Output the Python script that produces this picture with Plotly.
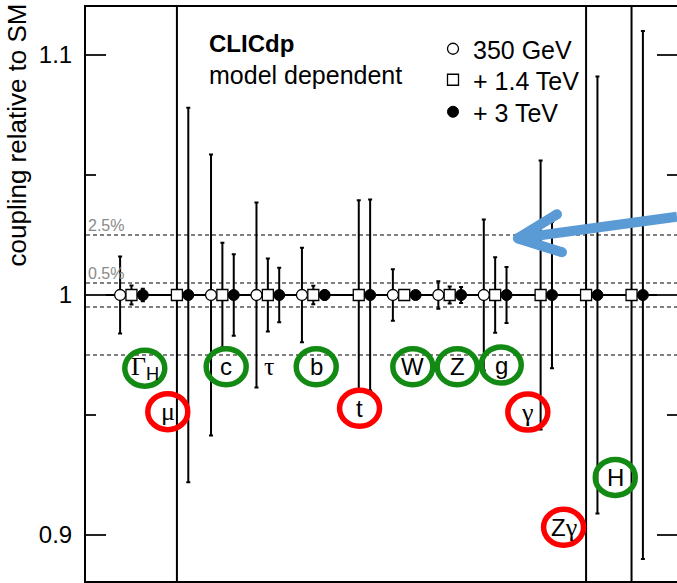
import plotly.graph_objects as go

# ---- data -------------------------------------------------------------
couplings = ["ΓH", "μ", "c", "τ", "b", "t", "W", "Z", "g", "γ", "Zγ", "H"]
# relative precision in percent (None = not measured at that stage)
err_350 = [1.6, None, 5.85, 3.85, 1.97, None, 1.07, 0.57, 3.15, None, None, None]
err_1400 = [0.40, 14.0, 2.18, 1.52, 0.39, 3.95, 0.18, 0.35, 1.57, 5.6, 15.0, 16.0]
err_3000 = [0.26, 7.8, 1.70, 1.14, 0.20, 3.98, 0.10, 0.33, 1.17, 3.05, 9.1, 11.0]
central = 1.0
stage_names = ["350 GeV", "+ 1.4 TeV", "+ 3 TeV"]
ref_lines = [1.025, 1.005, 0.995, 0.975]
ref_labels = {"2.5%": 1.025, "0.5%": 1.005}

# ---- layout constants ---------------------------------------------------
W, H = 677, 583
ML, MR, MT, MB = 86, 0, 7, 2
OFF = 0.25
SANS = "Liberation Sans, Arial, sans-serif"
SERIF = "Liberation Serif, Times New Roman, serif"
PW = W - ML - MR
PH = H - MT - MB


def px(xp):
    return (xp - ML) / PW


def py(yp):
    return (H - MB - yp) / PH


fig = go.Figure()

legend_ids = ["legend", "legend2", "legend3"]
stages = [
    (stage_names[0], err_350, -OFF, dict(symbol="circle", size=11, color="white", line=dict(color="black", width=1.3))),
    (stage_names[1], err_1400, 0.0, dict(symbol="square", size=11, color="white", line=dict(color="black", width=1.3))),
    (stage_names[2], err_3000, OFF, dict(symbol="circle", size=11, color="black", line=dict(color="black", width=1))),
]
for (name, errs, off, mk), lid in zip(stages, legend_ids):
    xs, ys, es = [], [], []
    for i, e in enumerate(errs):
        if e is None:
            continue
        xs.append(i + 1 + off)
        ys.append(central)
        es.append(e / 100.0)
    fig.add_trace(go.Scatter(
        x=xs, y=ys, mode="markers", name=name, marker=mk, legend=lid,
        error_y=dict(type="data", array=es, symmetric=True, color="black", thickness=2, width=2),
    ))

shapes = []
# dashed reference lines
for yv in ref_lines:
    shapes.append(dict(type="line", xref="paper", yref="y", x0=0, x1=1, y0=yv, y1=yv,
                       line=dict(color="#808080", width=2, dash="4px,3px"), layer="below"))
# SM line
shapes.append(dict(type="line", xref="paper", yref="y", x0=0, x1=1, y0=1, y1=1,
                   line=dict(color="black", width=2), layer="below"))
# right-side ticks (frame edge is just outside the picture)
for yv, ln in [(1.1, 20), (1.0, 20), (0.9, 20), (1.05, 10), (0.95, 10)]:
    shapes.append(dict(type="line", xref="paper", yref="y", x0=1, x1=1 - ln / PW, y0=yv, y1=yv,
                       line=dict(color="#222", width=2)))

# label circles: (text, x, y, colour or None, font, size)
labels = [
    ("Γ<span style='font-family:Liberation Sans'><sub>H</sub></span>", 1.293, 0.9695, "#138a13", SERIF, 26),
    ("μ", 1.799, 0.9514, "#ff0000", SERIF, 26),
    ("c", 3.084, 0.9701, "#138a13", SANS, 24),
    ("τ", 4.036, 0.9704, None, SERIF, 26),
    ("b", 5.064, 0.9701, "#138a13", SANS, 24),
    ("t", 6.017, 0.9528, "#ff0000", SANS, 24),
    ("W", 7.189, 0.9701, "#138a13", SANS, 24),
    ("Z", 8.166, 0.9701, "#138a13", SANS, 24),
    ("g", 9.134, 0.9708, "#138a13", SANS, 24),
    ("γ", 9.719, 0.9512, "#ff0000", SERIF, 26),
    ("Z<span style='font-family:Liberation Serif;font-size:26px'>γ</span>", 10.505, 0.9032, "#ff0000", SANS, 24),
    ("H", 11.642, 0.9240, "#138a13", SANS, 24),
]
annotations = []
for txt, lx, ly, col, fnt, fs in labels:
    if col is not None:
        shapes.append(dict(type="circle", xref="x", yref="y", xsizemode="pixel", ysizemode="pixel",
                           xanchor=lx, yanchor=ly, x0=-20, x1=20, y0=-18, y1=18,
                           line=dict(color=col, width=5.5), fillcolor="rgba(0,0,0,0)", layer="above"))
    annotations.append(dict(x=lx, y=ly, xref="x", yref="y", text=txt, showarrow=False,
                            font=dict(family=fnt, size=fs, color="black"), xanchor="center", yanchor="middle"))

# blue arrow
ARROW = "#5b9bd5"
tip = (9.50, 1.0236)
wing_up = (10.36, 1.0336)
wing_lo = (10.47, 1.0178)
tail = (13.0, 1.0326)
for p in (wing_up, wing_lo, tail):
    shapes.append(dict(type="line", xref="x", yref="y", x0=tip[0], y0=tip[1], x1=p[0], y1=p[1],
                       line=dict(color=ARROW, width=10), layer="above"))
for p in (tip, wing_up, wing_lo):
    shapes.append(dict(type="circle", xref="x", yref="y", xsizemode="pixel", ysizemode="pixel",
                       xanchor=p[0], yanchor=p[1], x0=-5, x1=5, y0=-5, y1=5,
                       line=dict(width=0), fillcolor=ARROW, layer="above"))

# texts
annotations += [
    dict(x=px(17), y=py(2), xref="paper", yref="paper", text="coupling relative to SM", textangle=-90,
         showarrow=False, xanchor="center", yanchor="top", font=dict(family=SANS, size=26, color="black")),
    dict(x=px(207), y=py(43), xref="paper", yref="paper", text="<b>CLICdp</b>", showarrow=False,
         xanchor="left", yanchor="middle", font=dict(family=SANS, size=24, color="black")),
    dict(x=px(207), y=py(75), xref="paper", yref="paper", text="model dependent", showarrow=False,
         xanchor="left", yanchor="middle", font=dict(family=SANS, size=25, color="black")),
]
for t, yv in ref_labels.items():
    annotations.append(dict(x=px(86), y=yv, xref="paper", yref="y", text=t, showarrow=False,
                            xanchor="left", yanchor="bottom", yshift=-1,
                            font=dict(family=SANS, size=16, color="#8a8a8a")))

leg_common = dict(xanchor="left", yanchor="top", bgcolor="rgba(0,0,0,0)",
                  font=dict(family=SANS, size=25, color="black"), itemsizing="trace")
fig.update_layout(
    width=W, height=H,
    margin=dict(l=ML, r=MR, t=MT, b=MB, pad=0),
    paper_bgcolor="white", plot_bgcolor="white",
    showlegend=True,
    legend=dict(x=px(433), y=py(26), **leg_common),
    legend2=dict(x=px(433), y=py(57), **leg_common),
    legend3=dict(x=px(433), y=py(89), **leg_common),
    xaxis=dict(range=[0, 13], showticklabels=False, ticks="", showgrid=False, zeroline=False,
               showline=True, mirror=True, linecolor="black", linewidth=2),
    yaxis=dict(range=[0.88083, 1.12], tickvals=[0.9, 1.0, 1.1], ticktext=["0.9", "1", "1.1"],
               ticks="inside", ticklen=20, tickwidth=2, tickcolor="#222",
               minor=dict(tickvals=[0.95, 1.05], ticks="inside", ticklen=10, tickwidth=2, tickcolor="#222"),
               showgrid=False, zeroline=False, showline=True, linecolor="black", linewidth=2,
               tickfont=dict(family=SANS, size=24, color="black"), ticklabelstandoff=7),
    shapes=shapes,
    annotations=annotations,
)

fig.write_html("out.html")
